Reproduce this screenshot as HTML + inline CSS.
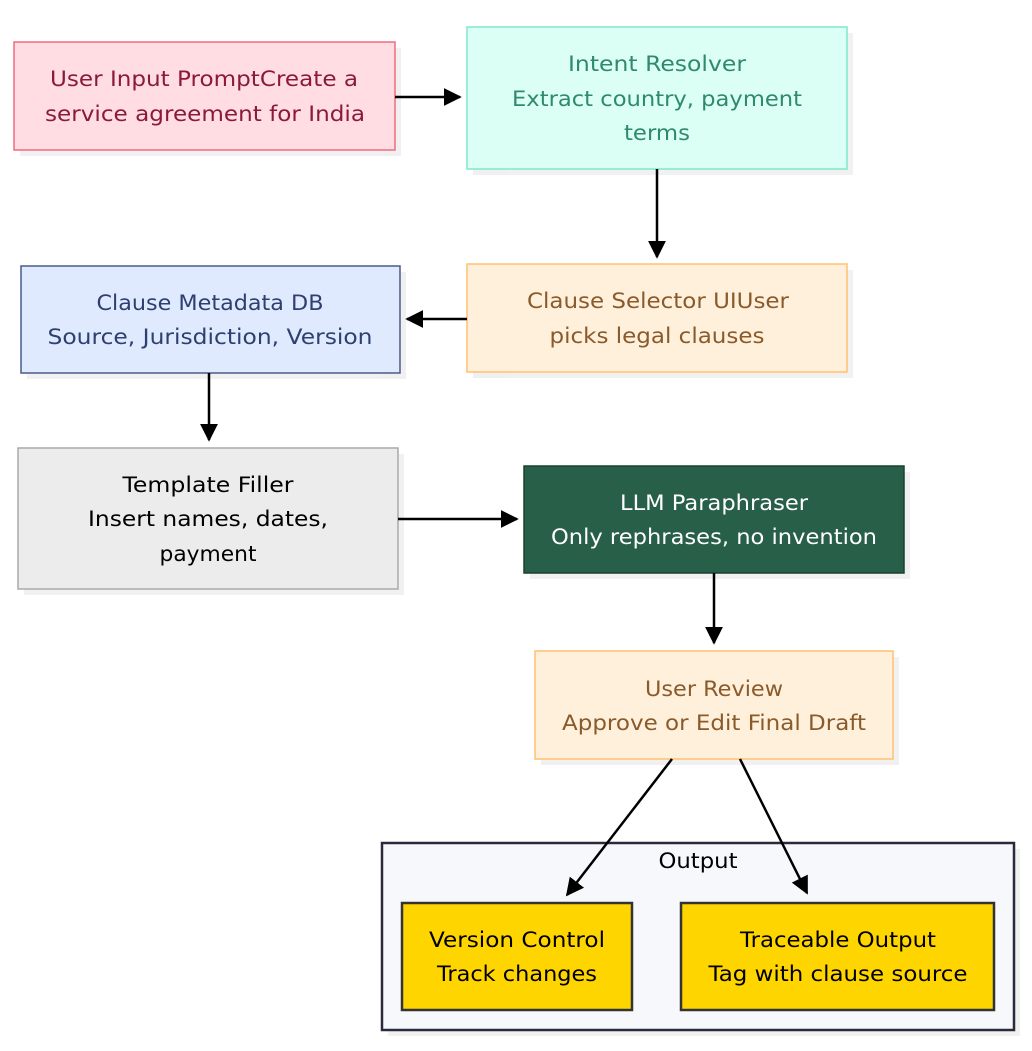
<!DOCTYPE html>
<html><head><meta charset="utf-8"><style>
html,body{margin:0;padding:0;background:#fff;}
svg text{font-family:"DejaVu Sans","Liberation Sans",sans-serif;font-size:21px;text-anchor:middle;}
</style></head><body>
<svg width="1032" height="1046" viewBox="0 0 1032 1046" xmlns="http://www.w3.org/2000/svg">
<defs><marker id="b" viewBox="0 0 10 10" refX="9" refY="5" markerWidth="18" markerHeight="18" markerUnits="userSpaceOnUse" orient="auto"><path d="M0,0L10,5L0,10z" fill="#000"/></marker></defs>
<g fill="#ebebeb" opacity="0.7">
<rect x="20" y="48" width="381" height="108"/><rect x="473" y="33" width="380" height="142"/>
<rect x="473" y="270" width="380" height="108"/><rect x="27" y="272" width="379" height="107"/>
<rect x="24" y="454" width="380" height="141"/><rect x="530" y="472" width="380" height="107"/>
<rect x="541" y="657" width="358" height="108"/><rect x="388" y="849" width="632" height="187"/>
</g>
<rect x="382" y="843" width="632" height="187" fill="#f7f8fb" stroke="#2a2a3a" stroke-width="2.5"/>
<g lengthAdjust="spacingAndGlyphs">
<text x="698" y="868" fill="#000" textLength="79" lengthAdjust="spacingAndGlyphs">Output</text>
<rect x="14" y="42" width="381" height="108" fill="#ffdde3" stroke="#f06a80" stroke-width="1.5"/>
<text x="204" y="86" fill="#8b1a3a" textLength="308" lengthAdjust="spacingAndGlyphs">User Input PromptCreate a</text>
<text x="205" y="121" fill="#8b1a3a" textLength="320" lengthAdjust="spacingAndGlyphs">service agreement for India</text>
<rect x="467" y="27" width="380" height="142" fill="#dcfff5" stroke="#7fe8cc" stroke-width="1.5"/>
<text x="657" y="71" fill="#2e8a6a" textLength="178" lengthAdjust="spacingAndGlyphs">Intent Resolver</text>
<text x="657" y="106" fill="#2e8a6a" textLength="290" lengthAdjust="spacingAndGlyphs">Extract country, payment</text>
<text x="657" y="140" fill="#2e8a6a" textLength="66" lengthAdjust="spacingAndGlyphs">terms</text>
<rect x="467" y="264" width="380" height="108" fill="#fff0dc" stroke="#ffc070" stroke-width="1.5"/>
<text x="658" y="308" fill="#8a5a2a" textLength="262" lengthAdjust="spacingAndGlyphs">Clause Selector UIUser</text>
<text x="657" y="343" fill="#8a5a2a" textLength="215" lengthAdjust="spacingAndGlyphs">picks legal clauses</text>
<rect x="21" y="266" width="379" height="107" fill="#e0eaff" stroke="#4a5a8a" stroke-width="1.5"/>
<text x="210" y="310" fill="#2f4070" textLength="227" lengthAdjust="spacingAndGlyphs">Clause Metadata DB</text>
<text x="210" y="344" fill="#2f4070" textLength="325" lengthAdjust="spacingAndGlyphs">Source, Jurisdiction, Version</text>
<rect x="18" y="448" width="380" height="141" fill="#ececec" stroke="#aaa" stroke-width="1.5"/>
<text x="208" y="492" fill="#000" textLength="171" lengthAdjust="spacingAndGlyphs">Template Filler</text>
<text x="208" y="526" fill="#000" textLength="240" lengthAdjust="spacingAndGlyphs">Insert names, dates,</text>
<text x="208" y="561" fill="#000" textLength="97" lengthAdjust="spacingAndGlyphs">payment</text>
<rect x="524" y="466" width="380" height="107" fill="#285f48" stroke="#1a4030" stroke-width="1.5"/>
<text x="714" y="510" fill="#fff" textLength="188" lengthAdjust="spacingAndGlyphs">LLM Paraphraser</text>
<text x="714" y="544" fill="#fff" textLength="326" lengthAdjust="spacingAndGlyphs">Only rephrases, no invention</text>
<rect x="535" y="651" width="358" height="108" fill="#fff0dc" stroke="#ffc070" stroke-width="1.5"/>
<text x="714" y="696" fill="#8a5a2a" textLength="138" lengthAdjust="spacingAndGlyphs">User Review</text>
<text x="714" y="730" fill="#8a5a2a" textLength="304" lengthAdjust="spacingAndGlyphs">Approve or Edit Final Draft</text>
<rect x="402" y="903" width="230" height="107" fill="#ffd500" stroke="#333" stroke-width="2.5"/>
<text x="517" y="947" fill="#000" textLength="176" lengthAdjust="spacingAndGlyphs">Version Control</text>
<text x="517" y="981" fill="#000" textLength="160" lengthAdjust="spacingAndGlyphs">Track changes</text>
<rect x="681" y="903" width="313" height="107" fill="#ffd500" stroke="#333" stroke-width="2.5"/>
<text x="838" y="947" fill="#000" textLength="196" lengthAdjust="spacingAndGlyphs">Traceable Output</text>
<text x="838" y="981" fill="#000" textLength="259" lengthAdjust="spacingAndGlyphs">Tag with clause source</text>
</g>
<g stroke="#000" stroke-width="2.5" fill="none" marker-end="url(#b)">
<path d="M395,97L460,97"/><path d="M657,169L657,257"/><path d="M467,319L407,319"/>
<path d="M209,373L209,440"/><path d="M398,519L517,519"/><path d="M714,573L714,643"/>
<path d="M672,759L567,895"/><path d="M740,759L807,893"/>
</g>
</svg>
</body></html>
